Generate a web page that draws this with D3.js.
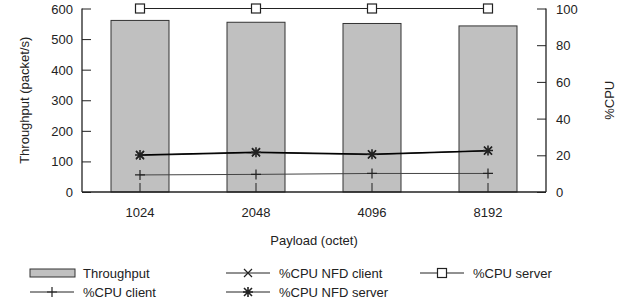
<!DOCTYPE html>
<html><head><meta charset="utf-8">
<script src="https://cdn.jsdelivr.net/npm/d3@7"></script>
<style>body{margin:0;background:#fff}text{font-family:"Liberation Sans",Arial,sans-serif;font-size:13px;fill:#222}</style>
</head><body><svg id="c" width="636" height="306"></svg>
<script>
const categories = ["1024","2048","4096","8192"];
const throughput = [561, 555, 551, 543];
const cpuClient = [9.3, 9.6, 10.1, 10.1];
const cpuNfdClient = [20.0, 21.5, 20.4, 22.4];
const cpuNfdServer = [20.2, 21.7, 20.6, 22.6];
const cpuServer = [100, 100, 100, 100];
const leftTicks = [0,100,200,300,400,500,600];
const rightTicks = [0,20,40,60,80,100];

const svg = d3.select("#c");
const L = 82, R = 546, T = 8.5, B = 192;
const x = d3.scaleBand().domain(categories).range([L, R]).paddingInner(0.5).paddingOuter(0.25);
const yL = d3.scaleLinear().domain([0,600]).range([B, T]);
const yR = d3.scaleLinear().domain([0,100]).range([B, T]);
const cx = c => x(c) + x.bandwidth()/2;
const dark = "#222";

// bars
svg.append("g").selectAll("rect").data(categories).join("rect")
  .attr("x", d => x(d)).attr("width", x.bandwidth())
  .attr("y", (d,i) => yL(throughput[i])).attr("height", (d,i) => B - yL(throughput[i]))
  .attr("fill", "#c0c0c0").attr("stroke", "#333").attr("stroke-width", 1);

// axes
const gl = svg.append("g").attr("transform", `translate(${L},0)`)
  .call(d3.axisRight(yL).tickValues(leftTicks).tickSize(9).tickFormat(d3.format("d")));
gl.selectAll("text").attr("x", -9).attr("text-anchor", "end").attr("dy", "0.35em");
const gr = svg.append("g").attr("transform", `translate(${R},0)`)
  .call(d3.axisLeft(yR).tickValues(rightTicks).tickSize(9).tickFormat(d3.format("d")));
gr.selectAll("text").attr("x", 10).attr("text-anchor", "start").attr("dy", "0.35em");
const gb = svg.append("g").attr("transform", `translate(0,${B})`)
  .call(d3.axisTop(x).tickSize(9));
gb.selectAll("text").attr("y", 20).attr("dy", "0.35em");
[gl, gr, gb].forEach(g => {
  g.select(".domain").attr("stroke", dark).attr("stroke-width", 1.3);
  g.selectAll(".tick line").attr("stroke", dark);
  g.selectAll("text").style("font-size", "13px").attr("fill", "#222");
});
gb.select(".domain").attr("d", `M${L},0H${R}`);
gl.select(".domain").attr("d", `M0,${T}V${B}`);
gr.select(".domain").attr("d", `M0,${T}V${B}`);

// axis titles
svg.append("text").attr("transform", `translate(24,${(T+B)/2}) rotate(-90)`).attr("text-anchor","middle").attr("dy","0.35em").text("Throughput (packet/s)");
svg.append("text").attr("transform", `translate(609,${(T+B)/2}) rotate(-90)`).attr("text-anchor","middle").attr("dy","0.35em").text("%CPU");
svg.append("text").attr("x", (L+R)/2).attr("y", 240).attr("text-anchor","middle").attr("dy","0.35em").text("Payload (octet)");

// markers
function marker(g, type, px, py, s) {
  const p = d3.path();
  if (type === "plus") { p.moveTo(px-s,py); p.lineTo(px+s,py); p.moveTo(px,py-s); p.lineTo(px,py+s); }
  if (type === "x" || type === "star") { const k = s*0.8; p.moveTo(px-k,py-k); p.lineTo(px+k,py+k); p.moveTo(px-k,py+k); p.lineTo(px+k,py-k); }
  if (type === "star") { p.moveTo(px-s,py); p.lineTo(px+s,py); p.moveTo(px,py-s); p.lineTo(px,py+s); }
  if (type === "square") { g.append("rect").attr("x",px-s).attr("y",py-s).attr("width",2*s).attr("height",2*s).attr("fill","#fff").attr("stroke",dark).attr("stroke-width",1.2); return; }
  g.append("path").attr("d", p.toString()).attr("stroke", dark).attr("stroke-width", type==="star"?1.6:1.2).attr("fill","none");
}
const series = [
  {vals: cpuClient, type: "plus", w: 1, col:"#444"},
  {vals: cpuNfdClient, type: "x", w: 1.2, col:dark},
  {vals: cpuNfdServer, type: "star", w: 1.2, col:"#000"},
  {vals: cpuServer, type: "square", w: 1, col:dark}
];
const line = d3.line().x(d => cx(d.c)).y(d => yR(d.v));
series.forEach(s => {
  const pts = categories.map((c,i) => ({c, v: s.vals[i]}));
  const g = svg.append("g");
  g.append("path").attr("d", line(pts)).attr("fill","none").attr("stroke", s.col).attr("stroke-width", s.w);
  pts.forEach(p => marker(g, s.type, cx(p.c), yR(p.v), s.type==="square"?4.5:5));
});

// legend
const lg = svg.append("g");
const leg = [
  {label:"Throughput", type:"bar", x:30, y:273},
  {label:"%CPU client", type:"plus", x:30, y:292},
  {label:"%CPU NFD client", type:"x", x:226, y:273},
  {label:"%CPU NFD server", type:"star", x:226, y:292},
  {label:"%CPU server", type:"square", x:420, y:273}
];
leg.forEach(d => {
  if (d.type === "bar") {
    lg.append("rect").attr("x", d.x).attr("y", d.y-4).attr("width", 45).attr("height", 8).attr("fill","#c0c0c0").attr("stroke","#333");
  } else {
    lg.append("line").attr("x1", d.x).attr("x2", d.x+44).attr("y1", d.y).attr("y2", d.y).attr("stroke", dark);
    marker(lg, d.type, d.x+22, d.y, d.type==="square"?4.5:5);
  }
  lg.append("text").attr("x", d.x+53).attr("y", d.y).attr("dy","0.35em").text(d.label);
});
</script></body></html>
